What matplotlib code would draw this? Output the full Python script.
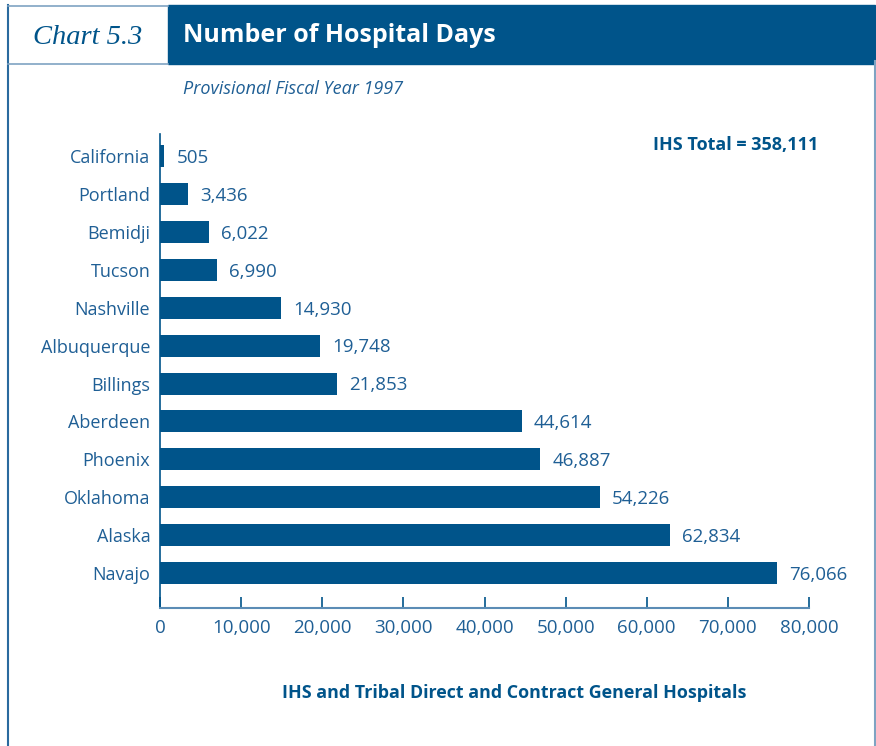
import matplotlib.pyplot as plt
from matplotlib.patches import Rectangle
from matplotlib.lines import Line2D

# data (top to bottom as in the chart)
areas = ['California', 'Portland', 'Bemidji', 'Tucson', 'Nashville', 'Albuquerque',
         'Billings', 'Aberdeen', 'Phoenix', 'Oklahoma', 'Alaska', 'Navajo']
days = [505, 3436, 6022, 6990, 14930, 19748, 21853, 44614, 46887, 54226, 62834, 76066]
xticks = [0, 10000, 20000, 30000, 40000, 50000, 60000, 70000, 80000]

BLUE = '#00548a'
TXT = '#1f5f95'
W, H = 876, 746

plt.rcParams['font.family'] = ['Open Sans', 'DejaVu Sans']

fig = plt.figure(figsize=(W / 100, H / 100), dpi=100)


def fx(px):
    return px / W


def fy(py):
    return 1 - py / H


# frame and header
fig.patches.append(Rectangle((fx(168), fy(64)), fx(875) - fx(168), fy(5) - fy(64),
                             transform=fig.transFigure, color=BLUE, zorder=0))
frame_col = '#2a6a9e'
fig.lines.append(Line2D([fx(7.5), fx(7.5)], [fy(5), fy(746)], transform=fig.transFigure,
                        color=frame_col, lw=1.5))
fig.lines.append(Line2D([fx(7.5), fx(168)], [fy(5.5), fy(5.5)], transform=fig.transFigure,
                        color='#7fa3c2', lw=1.2))
fig.lines.append(Line2D([fx(7.5), fx(168)], [fy(63.5), fy(63.5)], transform=fig.transFigure,
                        color='#7fa3c2', lw=1.2))
fig.lines.append(Line2D([fx(874.5), fx(874.5)], [fy(61), fy(746)], transform=fig.transFigure,
                        color='#7fa3c2', lw=1.5))

fig.text(fx(88), fy(37), 'Chart 5.3', family='Liberation Serif', style='italic',
         fontsize=20.5, color=BLUE, ha='center', va='center')
fig.text(fx(183), fy(35), 'Number of Hospital Days', fontsize=18, fontweight='bold',
         color='white', ha='left', va='center')
fig.text(fx(183), fy(89), 'Provisional Fiscal Year 1997', fontsize=13, style='italic',
         color=TXT, ha='left', va='center')
fig.text(fx(818), fy(145), 'IHS Total = 358,111', fontsize=13, fontweight='bold',
         color=BLUE, ha='right', va='center')
fig.text(fx(514), fy(693), 'IHS and Tribal Direct and Contract General Hospitals',
         fontsize=12.9, fontweight='bold', color=BLUE, ha='center', va='center')

# bar chart
ax = fig.add_axes([fx(160), fy(608), fx(809) - fx(160), fy(134) - fy(608)])
ypos = list(range(len(areas)))[::-1]
ax.barh(ypos, days, height=0.58, color=BLUE)
for y, v in zip(ypos, days):
    ax.text(v + 1500, y - 0.05, f'{v:,}', fontsize=13.5, color=TXT, va='center', ha='left')

ax.set_xlim(0, 80000)
ax.set_ylim(-0.92, 11.58)
ax.set_yticks(ypos)
ax.set_yticklabels(areas)
ax.set_xticks(xticks)
ax.set_xticklabels([f'{t:,}' for t in xticks])

for s in ['top', 'right']:
    ax.spines[s].set_visible(False)
ax.spines['left'].set_color(BLUE)
ax.spines['bottom'].set_color('#5b8cb5')
ax.spines['left'].set_linewidth(1.2)
ax.spines['bottom'].set_linewidth(1.5)
ax.tick_params(axis='y', length=0, pad=7, labelsize=13, labelcolor=TXT)
ax.tick_params(axis='x', direction='in', length=8, width=1.2, color=BLUE, pad=8,
               labelsize=13.5, labelcolor=TXT)
ax.patch.set_visible(False)

fig.savefig('out.png', dpi=100)
